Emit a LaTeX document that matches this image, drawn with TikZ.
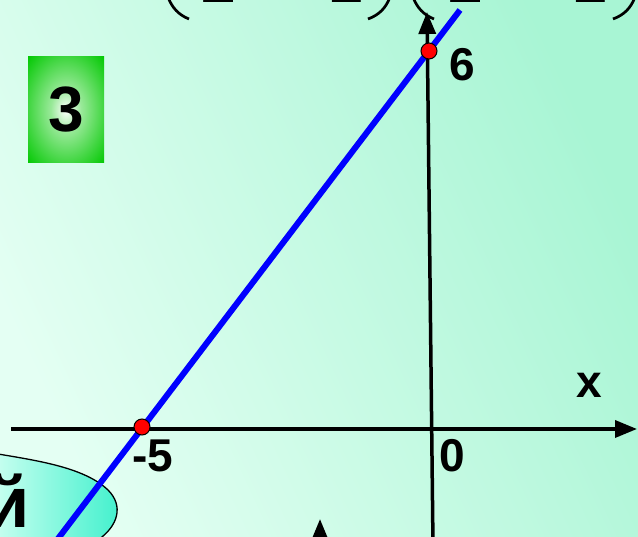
\documentclass[tikz,border=0pt]{standalone}
\usepackage{fontspec}
\setmainfont{Liberation Sans}
\usetikzlibrary{arrows.meta}
\definecolor{bglight}{HTML}{E4FFF3}
\definecolor{bgdark}{HTML}{A8F5D4}
\definecolor{boxgreen}{HTML}{00C800}
\definecolor{blobleft}{HTML}{C8FFF0}
\definecolor{blobright}{HTML}{3EF0CC}
\pgfdeclareradialshading{boxglow}{\pgfpoint{0bp}{0bp}}{color(0bp)=(white); color(10bp)=(boxgreen!40!white); color(25bp)=(boxgreen!75!white); color(36bp)=(boxgreen); color(50bp)=(boxgreen)}
\tikzset{
  axis/.style={line width=3.5pt,-{Triangle[length=22pt,width=17pt]}},
  graphline/.style={line width=6pt,blue},
  ptmark/.style={circle,draw=black,fill=red,line width=1pt,minimum size=16pt,inner sep=0pt},
  numlbl/.style={font=\fontsize{46}{50}\selectfont\bfseries,inner sep=0pt},
  topdigit/.style={font=\fontsize{62}{66}\selectfont\bfseries,anchor=base west,inner sep=0pt},
  bracket/.style={line width=2.7pt}
}

\begin{document}
\begin{tikzpicture}[x=1pt,y=-1pt]
  \useasboundingbox (0,0) rectangle (638,537);
  \clip (0,0) rectangle (638,537);
  \shade[top color=bglight,bottom color=bgdark,shading angle=115] (0,0) rectangle (638,537);

  % formula above, cut off by the top edge
  \draw[bracket] (168,-3) .. controls (172,8) and (179,15) .. (189,19);
  \draw[bracket] (390,-3) .. controls (386,8) and (379,15) .. (368,19);
  \draw[bracket] (413,-3) .. controls (417,8) and (424,15) .. (434,19);
  \draw[bracket] (635,-3) .. controls (631,8) and (624,15) .. (613,19);
  \node[topdigit] (ta) at (201,3) {2};
  \node[topdigit] (tb) at (328,3) {1};
  \node[topdigit] (tc) at (448,3) {2};
  \node[topdigit] (td) at (572,3) {1};

  % blob at the lower left
  \draw[line width=1.3pt,left color=blobleft,right color=blobright]
    (-2,454) .. controls (40,461) and (85,468) .. (108,490)
    .. controls (124,506) and (118,526) .. (98,540) -- (-5,540) -- cycle;
  \node[font=\fontsize{72}{76}\selectfont\bfseries,anchor=base east,inner sep=0pt] (yi) at (30,528) {й};

  % axes
  \coordinate (xs) at (11,429);
  \coordinate (xe) at (637,429);
  \coordinate (ys) at (433,545);
  \coordinate (ye) at (427,12);
  \coordinate (zs) at (320,560);
  \coordinate (ze) at (320,519);
  \draw[axis] (xs) -- (xe);
  \draw[axis] (ys) -- (ye);
  \draw[axis] (zs) -- (ze);

  % graph and intercepts
  \coordinate (ls) at (57,540);
  \coordinate (le) at (460,10);
  \draw[graphline] (ls) -- (le);
  \node[ptmark] (pa) at (142,427) {};
  \node[ptmark] (pb) at (429,51) {};

  \node[numlbl] (l6) at (462.5,65) {6};
  \node[numlbl] (lm5) at (152.5,456) {-5};
  \node[numlbl] (l0) at (452,456) {0};
  \node[numlbl] (lx) at (589,385.5) {x};

  % number box
  \shade[shading=boxglow] (28,57) rectangle (104,163);
  \node[font=\fontsize{64}{68}\selectfont\bfseries,inner sep=0pt] (n3) at (66,110) {3};
\end{tikzpicture}
\end{document}
